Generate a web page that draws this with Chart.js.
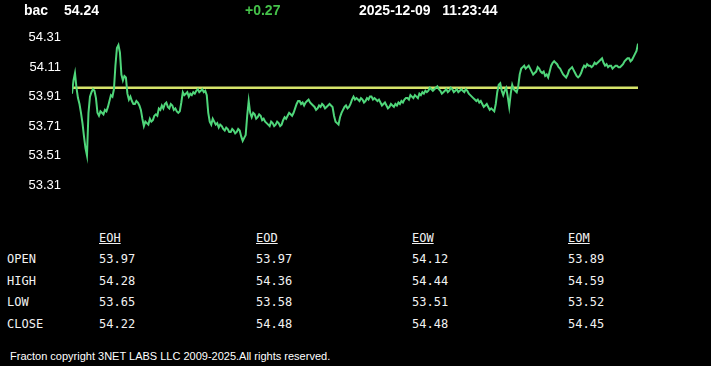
<!doctype html>
<html lang="en">
<head>
<meta charset="UTF-8" />
<title>bac</title>
<style>
  html, body { margin: 0; padding: 0; background: #000; }
  body { width: 711px; height: 366px; position: relative; overflow: hidden; color: #fff; font-family: "Liberation Sans", Arial, sans-serif; }
  .chart-wrap { position: absolute; left: 0; top: 0; width: 711px; height: 201px; }
  .hdr { position: absolute; top: 2px; font-size: 14px; font-weight: bold; line-height: 16px; white-space: pre; }
  .cell { position: absolute; font-family: "DejaVu Sans Mono", monospace; font-size: 12px; line-height: 14px; white-space: pre; color: #f2f2f2; }
  .cell.head { text-decoration: underline; }
  .foot { position: absolute; left: 10px; top: 349px; font-size: 11px; line-height: 14px; white-space: pre; }
</style>
</head>
<body>
<div class="chart-wrap"><canvas id="priceChart"></canvas></div>
<div id="header"></div>
<div id="table"></div>
<div class="foot">Fracton copyright 3NET LABS LLC 2009-2025.All rights reserved.</div>

<script src="https://cdn.jsdelivr.net/npm/chart.js"></script>
<script>
  const symbol = 'bac';
  const lastPrice = '54.24';
  const change = '+0.27';
  const quoteDate = '2025-12-09';
  const quoteTime = '11:23:44';

  // intraday prices left to right
  const prices = [
    53.93, 54.02, 54.07, 53.97, 53.90, 53.86, 53.80, 53.73, 53.64, 53.56, 53.51, 53.80, 53.91, 53.94, 53.96, 53.95, 53.90, 53.80, 53.78, 53.81,
    53.80, 53.79, 53.82, 53.81, 53.84, 53.88, 53.92, 53.91, 53.96, 54.12, 54.24, 54.26, 54.21, 54.06, 54.02, 54.05, 54.04, 53.93, 53.89, 53.91,
    53.88, 53.86, 53.86, 53.88, 53.87, 53.85, 53.82, 53.76, 53.71, 53.74, 53.73, 53.72, 53.76, 53.74, 53.75, 53.78, 53.79, 53.78, 53.83, 53.82,
    53.85, 53.83, 53.86, 53.87, 53.84, 53.83, 53.86, 53.85, 53.82, 53.83, 53.81, 53.80, 53.81, 53.87, 53.94, 53.92, 53.93, 53.94, 53.91, 53.93,
    53.92, 53.94, 53.93, 53.95, 53.96, 53.94, 53.95, 53.96, 53.94, 53.95, 53.92, 53.80, 53.74, 53.72, 53.76, 53.74, 53.72, 53.73, 53.70, 53.72,
    53.71, 53.69, 53.68, 53.70, 53.69, 53.67, 53.67, 53.69, 53.68, 53.66, 53.67, 53.69, 53.68, 53.64, 53.61, 53.63, 53.65, 53.78, 53.88, 53.80,
    53.77, 53.80, 53.79, 53.76, 53.77, 53.79, 53.78, 53.75, 53.76, 53.74, 53.73, 53.72, 53.71, 53.74, 53.73, 53.71, 53.72, 53.74, 53.73, 53.71,
    53.72, 53.75, 53.77, 53.76, 53.78, 53.80, 53.79, 53.78, 53.80, 53.83, 53.86, 53.88, 53.88, 53.86, 53.87, 53.85, 53.87, 53.88, 53.89, 53.87,
    53.86, 53.85, 53.84, 53.82, 53.83, 53.85, 53.84, 53.86, 53.85, 53.83, 53.84, 53.85, 53.86, 53.85, 53.84, 53.78, 53.74, 53.73, 53.72, 53.77,
    53.80, 53.82, 53.84, 53.85, 53.83, 53.84, 53.86, 53.89, 53.91, 53.89, 53.90, 53.89, 53.88, 53.90, 53.89, 53.87, 53.88, 53.90, 53.89, 53.91,
    53.91, 53.89, 53.90, 53.89, 53.88, 53.89, 53.87, 53.85, 53.86, 53.87, 53.85, 53.83, 53.84, 53.86, 53.85, 53.84, 53.86, 53.85, 53.87, 53.86,
    53.88, 53.87, 53.89, 53.90, 53.90, 53.89, 53.92, 53.91, 53.90, 53.92, 53.91, 53.90, 53.93, 53.92, 53.94, 53.93, 53.95, 53.94, 53.95, 53.97,
    53.96, 53.95, 53.96, 53.97, 53.98, 53.96, 53.95, 53.93, 53.94, 53.95, 53.96, 53.94, 53.95, 53.97, 53.96, 53.94, 53.95, 53.96, 53.94, 53.95,
    53.96, 53.95, 53.94, 53.96, 53.95, 53.93, 53.92, 53.91, 53.90, 53.89, 53.88, 53.89, 53.87, 53.88, 53.86, 53.84, 53.85, 53.86, 53.84, 53.82,
    53.83, 53.82, 53.81, 53.86, 53.94, 53.99, 54.00, 53.95, 53.92, 53.95, 53.97, 53.91, 53.84, 53.93, 53.99, 53.96, 53.95, 53.94, 53.98, 54.06,
    54.10, 54.11, 54.12, 54.10, 54.11, 54.12, 54.10, 54.08, 54.06, 54.07, 54.08, 54.11, 54.10, 54.08, 54.07, 54.08, 54.05, 54.06, 54.04, 54.08,
    54.12, 54.14, 54.15, 54.14, 54.13, 54.11, 54.10, 54.08, 54.06, 54.05, 54.04, 54.06, 54.09, 54.10, 54.11, 54.09, 54.07, 54.05, 54.04, 54.05,
    54.07, 54.10, 54.12, 54.11, 54.13, 54.12, 54.12, 54.11, 54.12, 54.14, 54.13, 54.14, 54.15, 54.16, 54.17, 54.14, 54.12, 54.13, 54.11, 54.12,
    54.12, 54.10, 54.11, 54.12, 54.12, 54.11, 54.11, 54.12, 54.13, 54.15, 54.16, 54.17, 54.17, 54.15, 54.16, 54.18, 54.20, 54.22, 54.27
  ];

  const yTicks = [54.31, 54.11, 53.91, 53.71, 53.51, 53.31];

  const rowLabels = ['OPEN', 'HIGH', 'LOW', 'CLOSE'];
  const colLabels = ['EOH', 'EOD', 'EOW', 'EOM'];
  const eohValues = ['53.97', '54.28', '53.65', '54.22'];
  const eodValues = ['53.97', '54.36', '53.58', '54.48'];
  const eowValues = ['54.12', '54.44', '53.51', '54.48'];
  const eomValues = ['53.89', '54.59', '53.52', '54.45'];

  // header
  const header = document.getElementById('header');
  const headItems = [
    { text: symbol, left: 24, color: '#fff' },
    { text: lastPrice, left: 64, color: '#fff' },
    { text: change, left: 245, color: '#45c24a' },
    { text: quoteDate + '   ' + quoteTime, left: 359, color: '#fff' }
  ];
  headItems.forEach((h) => {
    const d = document.createElement('div');
    d.className = 'hdr';
    d.style.left = h.left + 'px';
    d.style.color = h.color;
    d.textContent = h.text;
    header.appendChild(d);
  });

  // table
  const table = document.getElementById('table');
  const colX = [99, 256, 412, 568];
  const rowTop = [252, 273.5, 295, 316.5];
  const colValues = [eohValues, eodValues, eowValues, eomValues];
  function addCell(text, left, top, cls) {
    const d = document.createElement('div');
    d.className = 'cell' + (cls ? ' ' + cls : '');
    d.style.left = left + 'px';
    d.style.top = top + 'px';
    d.textContent = text;
    table.appendChild(d);
  }
  colLabels.forEach((c, i) => addCell(c, colX[i], 230.5, 'head'));
  rowLabels.forEach((r, j) => {
    addCell(r, 7, rowTop[j]);
    colValues.forEach((vals, i) => addCell(vals[j], colX[i], rowTop[j]));
  });

  // chart
  const openLevel = Number(eodValues[0]);
  const lastIdx = prices.length - 1;

  new Chart(document.getElementById('priceChart'), {
    type: 'line',
    data: {
      datasets: [
        {
          label: 'open',
          data: [{ x: 0, y: openLevel }, { x: lastIdx, y: openLevel }],
          borderColor: '#d6e46a',
          borderWidth: 2.5,
          pointRadius: 0,
          order: 2
        },
        {
          label: symbol,
          data: prices.map((v, i) => ({ x: i, y: v })),
          borderColor: '#4fd67a',
          borderWidth: 2,
          pointRadius: 0,
          tension: 0,
          order: 1
        }
      ]
    },
    options: {
      responsive: true,
      maintainAspectRatio: false,
      animation: false,
      devicePixelRatio: 1,
      layout: { padding: { left: 0, right: 73, top: 37.7, bottom: 16 } },
      plugins: { legend: { display: false }, tooltip: { enabled: false } },
      scales: {
        x: { type: 'linear', display: false, min: 0, max: lastIdx },
        y: {
          min: 53.31,
          max: 54.31,
          grid: { display: false },
          border: { display: false },
          afterFit: (s) => { s.width = 72; },
          afterBuildTicks: (s) => { s.ticks = yTicks.map((v) => ({ value: v })); },
          ticks: {
            color: '#fff',
            padding: 3,
            font: { family: '"Liberation Sans", Arial', size: 13 },
            callback: (v) => Number(v).toFixed(2)
          }
        }
      }
    }
  });
</script>
</body>
</html>
